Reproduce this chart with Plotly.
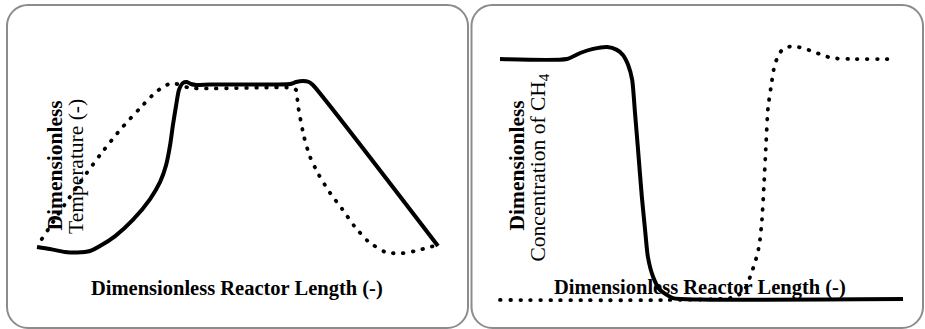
import plotly.graph_objects as go

# ---------------- data (dimensionless values) ----------------
# Left panel: dimensionless temperature vs reactor length
temp_solid_x = [0.0, 0.032, 0.070, 0.100, 0.132, 0.157, 0.195, 0.239, 0.282, 0.307, 0.322,
                0.332, 0.339, 0.347, 0.354, 0.364, 0.374, 0.384, 0.397, 0.431,
                0.531, 0.631, 0.646, 0.663, 0.678, 0.688, 1.0]
temp_solid_y = [0.018, 0.006, -0.012, -0.015, -0.006, 0.024, 0.084, 0.181, 0.307, 0.410,
                0.512, 0.633, 0.753, 0.873, 0.964, 1.006, 1.012, 1.0, 0.994,
                0.997, 0.997, 1.0, 1.012, 1.018, 1.012, 0.994, 0.024]

temp_dot_x = [0.012, 0.070, 0.115, 0.157, 0.207, 0.257, 0.294, 0.314, 0.337, 0.382, 0.638,
              0.646, 0.651, 0.666, 0.681, 0.703, 0.731, 0.761, 0.791, 0.825, 0.868, 0.905,
              0.943, 0.998]
temp_dot_y = [0.066, 0.277, 0.434, 0.572, 0.723, 0.855, 0.946, 0.982, 1.006, 0.976, 0.976,
              0.964, 0.867, 0.681, 0.560, 0.452, 0.343, 0.247, 0.145, 0.054, -0.012, -0.021,
              -0.006, 0.030]

# Right panel: dimensionless CH4 concentration vs reactor length
ch4_solid_x = [0.0, 0.166, 0.199, 0.231, 0.266, 0.290, 0.305, 0.318, 0.328, 0.335, 0.342,
               0.352, 0.360, 0.367, 0.380, 0.397, 0.429, 0.496, 1.0]
ch4_solid_y = [1.0, 1.0, 1.025, 1.042, 1.05, 1.038, 1.017, 0.975, 0.913, 0.775, 0.633,
               0.425, 0.288, 0.175, 0.092, 0.038, 0.004, -0.002, 0.0]

ch4_dot_x = [0.0, 0.414, 0.583, 0.608, 0.625, 0.633, 0.640, 0.645, 0.650, 0.655, 0.660,
             0.665, 0.672, 0.680, 0.687, 0.700, 0.725, 0.749, 0.774, 0.799, 0.824, 0.868, 0.975]
ch4_dot_y = [-0.004, -0.004, 0.008, 0.042, 0.113, 0.154, 0.196, 0.246, 0.329, 0.475, 0.642,
             0.796, 0.879, 0.963, 1.0, 1.038, 1.054, 1.046, 1.033, 1.017, 1.004, 1.0, 1.0]

x_title = "Dimensionless Reactor Length (-)"
left_y_title = ["Dimensionless", "Temperature (-)"]
right_y_title = ["Dimensionless", "Concentration of CH<sub>4</sub>"]

# ---------------- layout helpers ----------------
W, H = 925, 329
FONT = "Liberation Serif"


def px_x(p):
    return p / W


def px_y(p):
    return 1 - p / H


def rrect(x0, y0, x1, y1, r):
    k = 0.5523 * r
    X, Y = px_x, px_y
    return (
        f"M {X(x0 + r)},{Y(y0)} L {X(x1 - r)},{Y(y0)} "
        f"C {X(x1 - r + k)},{Y(y0)} {X(x1)},{Y(y0 + r - k)} {X(x1)},{Y(y0 + r)} "
        f"L {X(x1)},{Y(y1 - r)} "
        f"C {X(x1)},{Y(y1 - r + k)} {X(x1 - r + k)},{Y(y1)} {X(x1 - r)},{Y(y1)} "
        f"L {X(x0 + r)},{Y(y1)} "
        f"C {X(x0 + r - k)},{Y(y1)} {X(x0)},{Y(y1 - r + k)} {X(x0)},{Y(y1 - r)} "
        f"L {X(x0)},{Y(y0 + r)} "
        f"C {X(x0)},{Y(y0 + r - k)} {X(x0 + r - k)},{Y(y0)} {X(x0 + r)},{Y(y0)} Z"
    )


def axis_range(lo_px, hi_px, zero_px, one_px):
    scale = one_px - zero_px
    return [(lo_px - zero_px) / scale, (hi_px - zero_px) / scale]


split = 470
fig = go.Figure()

solid = dict(color="black", width=4, shape="spline", smoothing=0.6)
dotted = dict(color="black", width=3.8, dash="0.6px,9.4px", shape="spline", smoothing=0.6)

fig.add_trace(go.Scatter(x=temp_dot_x, y=temp_dot_y, mode="lines", line=dotted,
                         xaxis="x", yaxis="y", hoverinfo="skip"))
fig.add_trace(go.Scatter(x=temp_solid_x, y=temp_solid_y, mode="lines", line=solid,
                         xaxis="x", yaxis="y", hoverinfo="skip"))
fig.add_trace(go.Scatter(x=ch4_dot_x, y=ch4_dot_y, mode="lines", line=dotted,
                         xaxis="x2", yaxis="y2", hoverinfo="skip"))
fig.add_trace(go.Scatter(x=ch4_solid_x, y=ch4_solid_y, mode="lines", line=solid,
                         xaxis="x2", yaxis="y2", hoverinfo="skip"))

ax = dict(visible=False, fixedrange=True)
fig.update_layout(
    width=W, height=H,
    margin=dict(l=0, r=0, t=0, b=0),
    paper_bgcolor="white", plot_bgcolor="white",
    showlegend=False,
    xaxis=dict(domain=[0, split / W], range=axis_range(0, split, 37, 438), **ax),
    yaxis=dict(domain=[0, 1], range=axis_range(H, 0, 250, 84), **ax),
    xaxis2=dict(domain=[split / W, 1], range=axis_range(split, W, 500, 903), anchor="y2", **ax),
    yaxis2=dict(domain=[0, 1], range=axis_range(H, 0, 299, 59), anchor="x2", **ax),
    shapes=[
        dict(type="path", xref="paper", yref="paper", path=rrect(7, 5, 468, 328, 21),
             line=dict(color="#8c8c8c", width=2)),
        dict(type="path", xref="paper", yref="paper", path=rrect(471.5, 5, 923, 328, 21),
             line=dict(color="#8c8c8c", width=2)),
    ],
)

bold_font = dict(family=FONT, size=21.5, color="black")
reg_font = dict(family=FONT, size=21.5, color="black")

ann = [
    dict(text=f"<b>{x_title}</b>", x=px_x(236.5), y=px_y(288), font=dict(bold_font, size=20.5)),
    dict(text=f"<b>{x_title}</b>", x=px_x(700), y=px_y(287), font=dict(bold_font, size=20.5)),
    dict(text=f"<b>{left_y_title[0]}</b>", x=px_x(54.5), y=px_y(166), textangle=-90, font=bold_font),
    dict(text=left_y_title[1], x=px_x(76), y=px_y(167), textangle=-90, font=reg_font),
    dict(text=f"<b>{right_y_title[0]}</b>", x=px_x(516.5), y=px_y(166), textangle=-90, font=bold_font),
    dict(text=right_y_title[1], x=px_x(539), y=px_y(167.5), textangle=-90, font=reg_font),
]
for a in ann:
    fig.add_annotation(xref="paper", yref="paper", xanchor="center", yanchor="middle",
                       showarrow=False, **a)

post = (
    "document.body.style.margin='0';document.body.style.overflow='hidden';"
    "document.querySelectorAll('.scatterlayer path.js-line').forEach(function(p){"
    "if(p.style.strokeDasharray && p.style.strokeDasharray!=='none'){"
    "p.style.strokeLinecap='round';}});"
)
fig.write_html("out.html", config={"displayModeBar": False}, post_script=post)
